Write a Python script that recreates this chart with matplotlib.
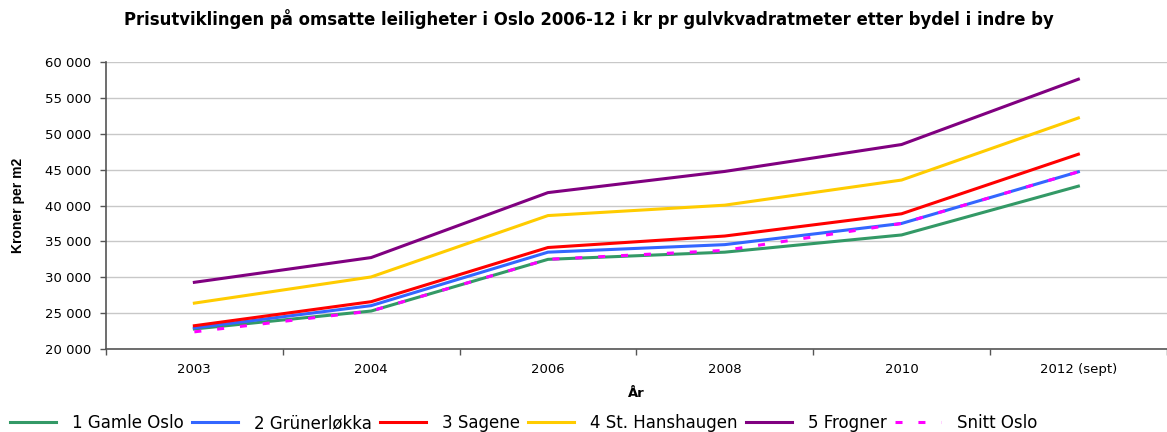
import matplotlib.pyplot as plt
from matplotlib.ticker import FuncFormatter, FixedLocator

plt.rcParams['font.family'] = ['DejaVu Sans']

# Data (kr per m2)
years = ['2003', '2004', '2006', '2008', '2010', '2012 (sept)']
gamle_oslo = [22800, 25300, 32500, 33500, 35900, 42700]
grunerlokka = [22950, 26050, 33500, 34550, 37500, 44700]
sagene = [23250, 26600, 34150, 35750, 38850, 47150]
st_hanshaugen = [26400, 30050, 38600, 40050, 43550, 52200]
frogner = [29300, 32750, 41800, 44750, 48500, 57600]
snitt_oslo = [22400, 25300, 32500, 33750, 37500, 44700]

series = [
    ('1 Gamle Oslo', gamle_oslo, '#339966', '-'),
    ('2 Grünerløkka', grunerlokka, '#3366FF', '-'),
    ('3 Sagene', sagene, '#FF0000', '-'),
    ('4 St. Hanshaugen', st_hanshaugen, '#FFCC00', '-'),
    ('5 Frogner', frogner, '#800080', '-'),
    ('Snitt Oslo', snitt_oslo, '#FF00FF', '--'),
]

fig = plt.figure(figsize=(11.67, 4.32), dpi=100)
ax = fig.add_axes([0.0908, 0.192, 0.909, 0.6645])

x = range(len(years))
for name, vals, col, ls in series:
    line, = ax.plot(x, vals, color=col, lw=2.2, ls=ls, label=name)
    if ls == '--':
        line.set_dashes((2.3, 5.2))

ax.set_xlim(-0.5, len(years) - 0.5)
ax.set_ylim(20000, 60000)
ax.set_yticks(range(20000, 60001, 5000))
ax.yaxis.set_major_formatter(FuncFormatter(lambda v, p: f'{int(v):,}'.replace(',', ' ')))
ax.set_xticks(list(x))
ax.set_xticklabels(years)
ax.xaxis.set_minor_locator(FixedLocator([i - 0.5 for i in range(len(years) + 1)]))
ax.tick_params(axis='x', which='major', length=0, pad=10, labelsize=9.5)
ax.tick_params(axis='x', which='minor', length=4.3, color='#555555', width=1)
ax.tick_params(axis='y', length=4.3, pad=6.5, color='#555555', width=1, labelsize=9.5)

ax.grid(True, axis='y', color='#c8c8c8', lw=1)
ax.set_axisbelow(True)
for s in ['top', 'right']:
    ax.spines[s].set_visible(False)
for s in ['left', 'bottom']:
    ax.spines[s].set_color('#555555')
    ax.spines[s].set_linewidth(1.2)

ax.set_xlabel('År', fontsize=9.5, fontweight='bold', labelpad=8)
ax.set_ylabel('Kroner per m2', fontsize=10, fontweight='bold', labelpad=14,
              family=['Liberation Sans', 'DejaVu Sans'])
fig.suptitle('Prisutviklingen på omsatte leiligheter i Oslo 2006-12 i kr pr gulvkvadratmeter etter bydel i indre by',
             fontsize=11.9, fontweight='bold', x=0.505, y=0.98)

fig.legend(loc='lower left', bbox_to_anchor=(-0.004, -0.035), ncol=6, frameon=False,
           fontsize=12, handlelength=2.75, handletextpad=0.96, columnspacing=0.5)

fig.savefig('out.png', dpi=100)
